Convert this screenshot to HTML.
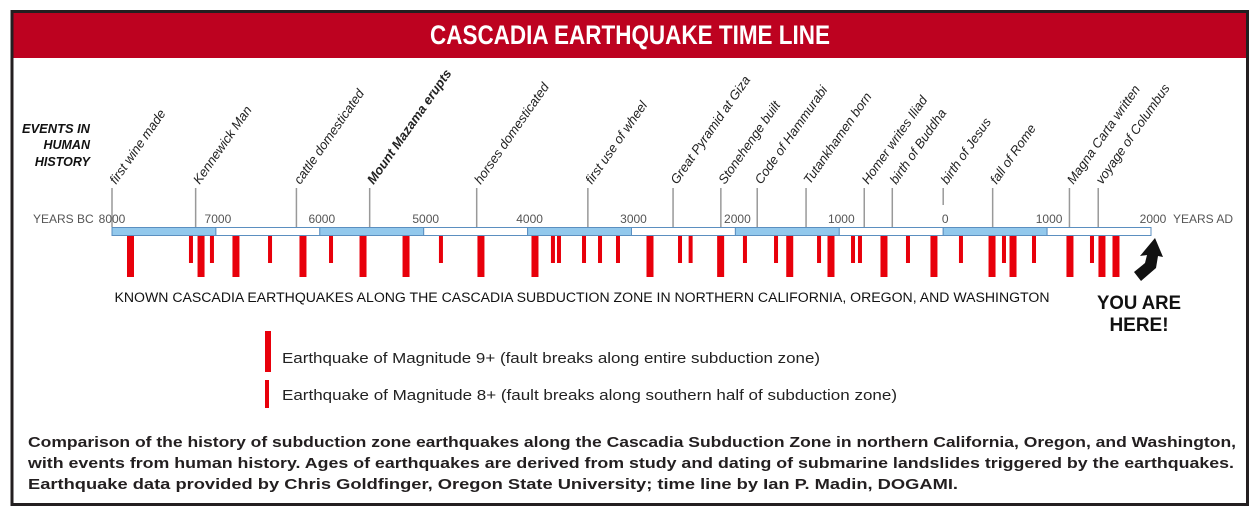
<!DOCTYPE html>
<html><head><meta charset="utf-8"><style>
body{margin:0;background:#fff}
svg{display:block;font-family:"Liberation Sans",sans-serif}
</style></head><body>
<svg width="1258" height="516" viewBox="0 0 1258 516">
<rect x="12" y="11.5" width="1235.5" height="493" fill="#fff" stroke="#231f20" stroke-width="3"/>
<rect x="13.5" y="13" width="1232.5" height="45" fill="#bd0220"/>
<text x="630" y="44" text-anchor="middle" fill="#fff" font-weight="bold" font-size="27" textLength="400" lengthAdjust="spacingAndGlyphs">CASCADIA EARTHQUAKE TIME LINE</text>
<g font-weight="bold" font-style="italic" font-size="12.5" text-anchor="end" fill="#111">
<text x="90" y="133" textLength="68" lengthAdjust="spacingAndGlyphs">EVENTS IN</text>
<text x="90" y="149">HUMAN</text>
<text x="90" y="166">HISTORY</text>
</g>
<text x="33" y="223" font-size="12" fill="#555">YEARS BC</text>
<text x="1173" y="223" font-size="12" fill="#555">YEARS AD</text>
<g id="events"></g>
<g id="axis"></g>
<g id="quakes"></g>
<text x="582" y="302" text-anchor="middle" font-size="13.5" fill="#111" textLength="935" lengthAdjust="spacingAndGlyphs">KNOWN CASCADIA EARTHQUAKES ALONG THE CASCADIA SUBDUCTION ZONE IN NORTHERN CALIFORNIA, OREGON, AND WASHINGTON</text>
<polygon points="1155,238 1163,257 1158,256 1156,268 1141,281 1134,272 1145,263 1147,255 1140,256" fill="#111"/>
<g font-weight="bold" font-size="19" text-anchor="middle" fill="#111">
<text x="1139" y="309" textLength="84" lengthAdjust="spacingAndGlyphs">YOU ARE</text>
<text x="1139" y="331">HERE!</text>
</g>
<rect x="265" y="331" width="6" height="41" fill="#e8000b"/>
<text x="282" y="363" font-size="15" fill="#222" textLength="538" lengthAdjust="spacingAndGlyphs">Earthquake of Magnitude 9+ (fault breaks along entire subduction zone)</text>
<rect x="265" y="380" width="4" height="28" fill="#e8000b"/>
<text x="282" y="400" font-size="15" fill="#222" textLength="615" lengthAdjust="spacingAndGlyphs">Earthquake of Magnitude 8+ (fault breaks along southern half of subduction zone)</text>
<g font-weight="bold" font-size="14.5" fill="#231f20">
<text x="28" y="447" textLength="1208" lengthAdjust="spacingAndGlyphs">Comparison of the history of subduction zone earthquakes along the Cascadia Subduction Zone in northern California, Oregon, and Washington,</text>
<text x="28" y="468" textLength="1206" lengthAdjust="spacingAndGlyphs">with events from human history. Ages of earthquakes are derived from study and dating of submarine landslides triggered by the earthquakes.</text>
<text x="28" y="489" textLength="930" lengthAdjust="spacingAndGlyphs">Earthquake data provided by Chris Goldfinger, Oregon State University; time line by Ian P. Madin, DOGAMI.</text>
</g>
</svg>
<script>
const tickYears=[-8000,-7000,-6000,-5000,-4000,-3000,-2000,-1000,0,1000,2000];
const tickLabels=["8000","7000","6000","5000","4000","3000","2000","1000","0","1000","2000"];
const quakeYears=[-7822,-7240,-7143,-7038,-6807,-6479,-6162,-5892,-5584,-5170,-4834,-4449,-3929,-3756,-3698,-3457,-3303,-3130,-2822,-2533,-2431,-2142,-1908,-1609,-1477,-1195,-1080,-868,-801,-570,-339,-89,171,470,585,672,874,1220,1432,1528,1663];
const quakeMags=[9,8,9,8,9,8,9,8,9,9,8,9,9,8,8,8,8,8,9,8,8,9,8,8,9,8,9,8,8,9,8,9,8,9,8,9,8,9,8,9,9];
const eventNames=["first wine made","Kennewick Man","cattle domesticated","Mount Mazama erupts","horses domesticated","first use of wheel","Great Pyramid at Giza","Stonehenge built","Code of Hammurabi","Tutankhamen born","Homer writes Iliad","birth of Buddha","birth of Jesus","fall of Rome","Magna Carta written","voyage of Columbus"];
const eventYears=[-8000,-7195,-6225,-5520,-4490,-3420,-2600,-2140,-1790,-1320,-760,-490,0,476,1215,1492];
const NS='http://www.w3.org/2000/svg';
const x0=112,x1=1151,yMin=-8000,yMax=2000;
function xs(y){return x0+(y-yMin)/(yMax-yMin)*(x1-x0);}
function mk(t,a,p){const e=document.createElementNS(NS,t);for(const k in a)e.setAttribute(k,a[k]);p.appendChild(e);return e;}
const axis=document.getElementById('axis');
for(let i=0;i<tickYears.length-1;i++){
  const r=mk('rect',{x:xs(tickYears[i]),y:227.5,width:xs(tickYears[i+1])-xs(tickYears[i]),height:8,fill:i%2===0?'#92c8ec':'#fff',stroke:'#5b8fc0','stroke-width':1},axis);
  
  
}
tickYears.forEach((y,i)=>{
  const t=mk('text',{x:xs(y)+(i===0?0:2),y:223,'text-anchor':'middle','font-size':12,fill:'#555'},axis);
  t.textContent=tickLabels[i];
  
  
});
const ev=document.getElementById('events');
eventNames.forEach((n,i)=>{
  const x=xs(eventYears[i]);
  const isJ=n==="birth of Jesus";
  const l=mk('line',{x1:x,x2:x,y1:188,y2:isJ?205:227,stroke:'#999','stroke-width':1.5},ev);
  
  
  const t=mk('text',{x:0,y:0,transform:`translate(${x+4},${185}) rotate(-55)`,'font-size':13,'font-style':'italic',fill:'#222','font-weight':n==="Mount Mazama erupts"?'bold':'normal'},ev);
  t.textContent=n;
  
  
});
const q=document.getElementById('quakes');
quakeYears.forEach((y,i)=>{
  const big=quakeMags[i]>=9;
  const w=big?7:4;
  const r=mk('rect',{x:xs(y)-w/2,y:236,width:w,height:big?41:27,fill:'#e8000b'},q);
  
  
});
</script>
</body></html>
